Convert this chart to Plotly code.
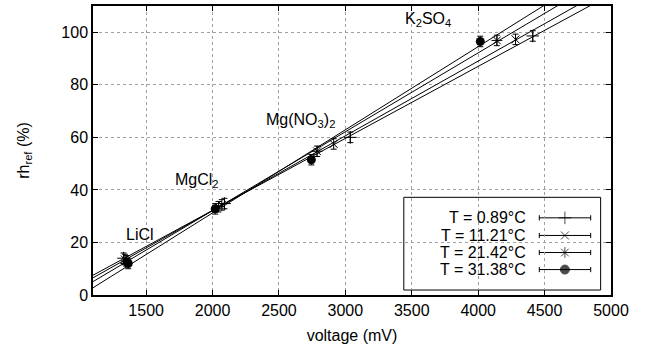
import numpy as np
import plotly.graph_objects as go

# ---- data ----
temps = ["T = 0.89°C", "T = 11.21°C", "T = 21.42°C", "T = 31.38°C"]
salts = ["LiCl", "MgCl<sub>2</sub>", "Mg(NO<sub>3</sub>)<sub>2</sub>", "K<sub>2</sub>SO<sub>4</sub>"]

volt_t089 = [1330, 2090, 3037, 4411]
rh_t089 = [14.0, 34.8, 60.0, 98.6]
volt_t1121 = [1340, 2070, 2912, 4281]
rh_t1121 = [13.5, 34.3, 57.5, 97.3]
volt_t2142 = [1350, 2045, 2787, 4141]
rh_t2142 = [13.0, 33.6, 54.7, 96.9]
volt_t3138 = [1365, 2020, 2744, 4016]
rh_t3138 = [12.0, 32.8, 51.5, 96.5]
rh_err = [2.0, 2.0, 2.0, 2.0]

salt_label_volt = [1331, 1700, 2385, 3434]
salt_label_rh = [23.2, 43.5, 66.5, 105.0]

x_range = [1100, 5000]
y_range = [0, 110]
x_ticks = [1500, 2000, 2500, 3000, 3500, 4000, 4500, 5000]
y_ticks = [0, 20, 40, 60, 80, 100]

series = [
    (temps[0], volt_t089, rh_t089, dict(symbol="cross-thin-open", size=9, color="black", line=dict(width=1, color="black"))),
    (temps[1], volt_t1121, rh_t1121, dict(symbol="x-thin-open", size=8, color="black", line=dict(width=1, color="black"))),
    (temps[2], volt_t2142, rh_t2142, dict(symbol="asterisk-open", size=9, color="black", line=dict(width=1, color="black"))),
    (temps[3], volt_t3138, rh_t3138, dict(symbol="circle", size=9, color="black", line=dict(width=0, color="black"))),
]

FONT = "Liberation Sans, Arial, Helvetica, sans-serif"
fig = go.Figure()

# fit lines (least squares on each temperature's points)
xl = np.array(x_range, dtype=float)
for name, v, r, m in series:
    k, b = np.polyfit(v, r, 1)
    fig.add_trace(go.Scatter(x=xl, y=k * xl + b, mode="lines",
                             line=dict(color="black", width=1),
                             showlegend=False, hoverinfo="skip"))

for name, v, r, m in series:
    fig.add_trace(go.Scatter(x=v, y=r, mode="markers", name=name, marker=m,
                             error_y=dict(type="data", array=rh_err, color="black",
                                          thickness=1, width=3),
                             showlegend=False))

# salt labels
for s, xv, yv in zip(salts, salt_label_volt, salt_label_rh):
    fig.add_annotation(x=xv, y=yv, text=s, showarrow=False, xanchor="left",
                       yanchor="middle", font=dict(size=16, family=FONT, color="black"))

# custom gnuplot-style key (opaque box, text right aligned, sample on right)
box = dict(x0=0.600, x1=0.980, y0=0.0172, y1=0.338)
fig.add_shape(type="rect", xref="paper", yref="paper", **box,
              fillcolor="white", line=dict(color="black", width=1), layer="between")
key_y = [0.267, 0.206, 0.147, 0.088]
lx0, lx1, lmx = 0.8616, 0.9608, 0.911
for (name, v, r, m), yy in zip(series, key_y):
    fig.add_annotation(x=0.840, y=yy, xref="paper", yref="paper", text=name,
                       showarrow=False, xanchor="right", yanchor="middle",
                       font=dict(size=16, family=FONT, color="black"))
    fig.add_shape(type="line", xref="paper", yref="paper", x0=lx0, x1=lx1, y0=yy, y1=yy,
                  line=dict(color="black", width=1), layer="between")
    for xe in (lx0, lx1):
        fig.add_shape(type="line", xref="paper", yref="paper", x0=xe, x1=xe,
                      y0=yy - 0.009, y1=yy + 0.009,
                      line=dict(color="black", width=1), layer="between")

fig.add_trace(go.Scatter(x=[lmx] * 4, y=key_y, mode="markers", xaxis="x2", yaxis="y2",
                         marker=dict(symbol=[s[3]["symbol"] for s in series],
                                     size=[s[3]["size"] for s in series],
                                     color="black", line=dict(width=1, color="black")),
                         showlegend=False, hoverinfo="skip"))

axis_common = dict(showline=True, linecolor="black", linewidth=1.5, mirror="ticks",
                   ticks="inside", ticklen=5, tickcolor="black",
                   showgrid=True, gridcolor="#a0a0a0", griddash="dot", gridwidth=1,
                   zeroline=False, tickfont=dict(size=16, family=FONT, color="black"))

fig.update_layout(
    width=646, height=354,
    margin=dict(l=93, r=35, t=4, b=59),
    paper_bgcolor="white", plot_bgcolor="white",
    showlegend=False,
    xaxis=dict(range=x_range, tickvals=x_ticks, **axis_common,
               title=dict(text="voltage (mV)", font=dict(size=16, family=FONT, color="black"),
                          standoff=12)),
    yaxis=dict(range=y_range, tickvals=y_ticks, **axis_common,
               title=dict(text="rh<sub>ref</sub> (%)", font=dict(size=16, family=FONT, color="black"),
                          standoff=28)),
    xaxis2=dict(range=[0, 1], domain=[0, 1], overlaying="x", visible=False, fixedrange=True),
    yaxis2=dict(range=[0, 1], domain=[0, 1], overlaying="y", visible=False, fixedrange=True),
)

fig.write_html("out.html")
